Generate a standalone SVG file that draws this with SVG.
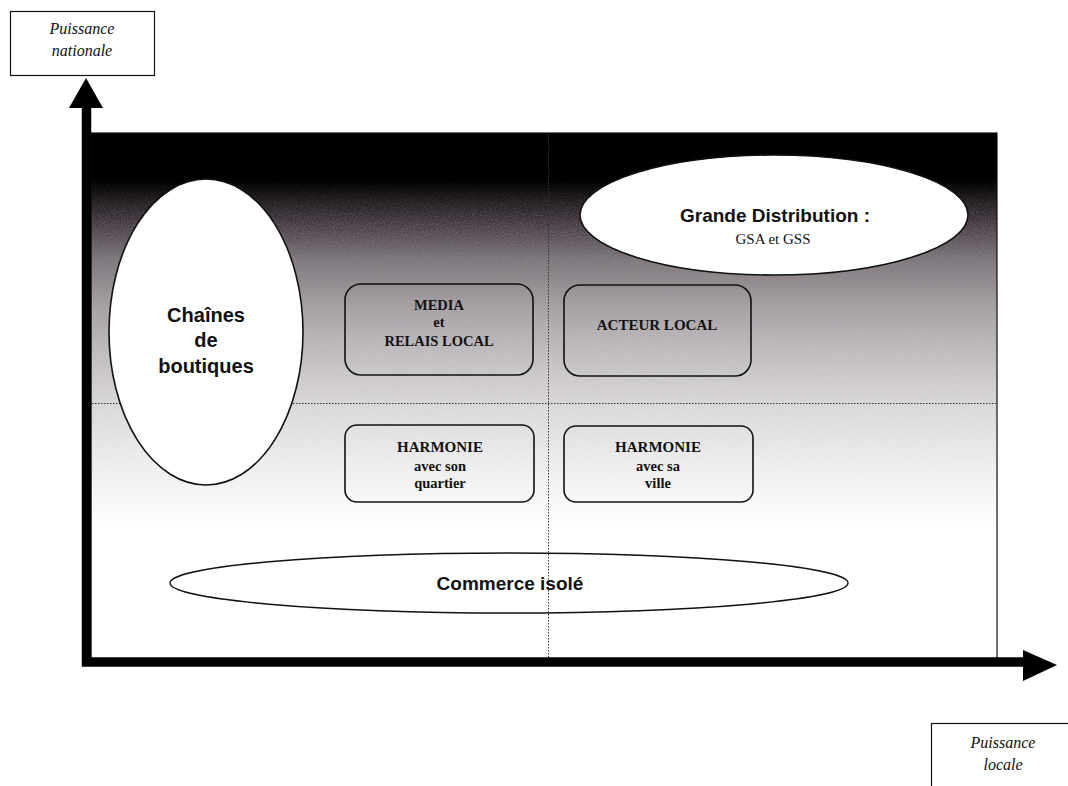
<svg xmlns="http://www.w3.org/2000/svg" width="1068" height="786" viewBox="0 0 1068 786">
<style>
.lbl{font-family:"Liberation Serif",serif;font-style:italic;font-size:16px;fill:#111;text-anchor:middle}
.sans{font-family:"Liberation Sans",Arial,sans-serif;font-weight:bold;fill:#111;text-anchor:middle}
.serif{font-family:"Liberation Serif",serif;font-weight:bold;fill:#111;text-anchor:middle}
.box{fill:none;stroke:#111;stroke-width:1.6}
.ell{fill:#fff;stroke:#111;stroke-width:1.6}
.dot{stroke:#333;stroke-width:1;stroke-dasharray:1.5 1.5;fill:none}
</style>
<defs>
<linearGradient id="bg" x1="0" y1="133" x2="0" y2="660" gradientUnits="userSpaceOnUse">
<stop offset="0" stop-color="#000"/>
<stop offset="0.09" stop-color="#000"/>
<stop offset="0.16" stop-color="#3a3238"/>
<stop offset="0.24" stop-color="#7d767b"/>
<stop offset="0.33" stop-color="#a8a3a7"/>
<stop offset="0.44" stop-color="#c9c6c9"/>
<stop offset="0.52" stop-color="#dddbdd"/>
<stop offset="0.62" stop-color="#eeedee"/>
<stop offset="0.75" stop-color="#fff"/>
<stop offset="1" stop-color="#fff"/>
</linearGradient>
<filter id="noise" x="0" y="0" width="100%" height="100%">
<feTurbulence type="fractalNoise" baseFrequency="0.9" numOctaves="2" seed="3" result="t"/>
<feColorMatrix in="t" type="matrix" values="0 0 0 0 0.35  0 0 0 0 0.3  0 0 0 0 0.34  0 0 0 -2.2 1.25" result="n"/>
<feComposite in="n" in2="SourceGraphic" operator="in"/>
</filter>
<linearGradient id="nmask" x1="0" y1="133" x2="0" y2="660" gradientUnits="userSpaceOnUse">
<stop offset="0.08" stop-color="#fff" stop-opacity="0"/>
<stop offset="0.18" stop-color="#fff" stop-opacity="0.9"/>
<stop offset="0.5" stop-color="#fff" stop-opacity="0.35"/>
<stop offset="0.7" stop-color="#fff" stop-opacity="0"/>
</linearGradient>
</defs>
<rect width="1068" height="786" fill="#fff"/>
<!-- plot area -->
<rect x="91" y="133" width="906" height="527" fill="url(#bg)"/>
<rect x="91" y="133" width="906" height="527" fill="url(#nmask)" filter="url(#noise)" opacity="0.55"/>
<rect x="91" y="133" width="906" height="527" fill="none" stroke="#111" stroke-width="1.2"/>
<g id="connectors">
<line class="dot" x1="92" y1="403.5" x2="996" y2="403.5"/>
<line class="dot" x1="548.5" y1="134" x2="548.5" y2="658"/>
<line x1="86.5" y1="106" x2="86.5" y2="666" stroke="#000" stroke-width="9.5"/>
<polygon points="86,78 69,108 103,108" fill="#000"/>
<line x1="82" y1="662" x2="1025" y2="662" stroke="#000" stroke-width="9.5"/>
<polygon points="1057,665 1023,650 1023,681" fill="#000"/>
</g>
<g id="axis-y-label">
<rect x="10.5" y="11.5" width="144" height="64" fill="#fff" stroke="#111" stroke-width="1.2"/>
<text class="lbl" x="82" y="34">Puissance</text>
<text class="lbl" x="82" y="56">nationale</text>
</g>
<g id="axis-x-label">
<rect x="931.5" y="723.5" width="145" height="70" fill="#fff" stroke="#111" stroke-width="1.2"/>
<text class="lbl" x="1003" y="748">Puissance</text>
<text class="lbl" x="1003" y="770">locale</text>
</g>
<g id="chaines">
<ellipse class="ell" cx="206" cy="332" rx="97" ry="153"/>
<text class="sans" font-size="20" x="206" y="322">Chaînes</text>
<text class="sans" font-size="20" x="206" y="347">de</text>
<text class="sans" font-size="20" x="206" y="373">boutiques</text>
</g>
<g id="grande-distribution">
<ellipse class="ell" cx="774" cy="215" rx="194" ry="60"/>
<text class="sans" font-size="19" x="775" y="222">Grande Distribution :</text>
<text font-family="Liberation Serif,serif" font-size="15" fill="#111" text-anchor="middle" x="773" y="244">GSA et GSS</text>
</g>
<g id="media">
<rect class="box" x="345" y="284" width="188" height="91" rx="16"/>
<text class="serif" font-size="14.5" x="439" y="310">MEDIA</text>
<text class="serif" font-size="14.5" x="439" y="327">et</text>
<text class="serif" font-size="14.5" x="439" y="346">RELAIS LOCAL</text>
</g>
<g id="acteur">
<rect class="box" x="564" y="285" width="187" height="91" rx="16"/>
<text class="serif" font-size="15" x="657" y="330">ACTEUR LOCAL</text>
</g>
<g id="harmonie-quartier">
<rect class="box" x="345" y="425" width="189" height="77" rx="12"/>
<text class="serif" font-size="15" x="440" y="452">HARMONIE</text>
<text class="serif" font-size="14.5" x="440" y="471">avec son</text>
<text class="serif" font-size="14.5" x="440" y="488">quartier</text>
</g>
<g id="harmonie-ville">
<rect class="box" x="564" y="426" width="189" height="76" rx="12"/>
<text class="serif" font-size="15" x="658" y="452">HARMONIE</text>
<text class="serif" font-size="14.5" x="658" y="471">avec sa</text>
<text class="serif" font-size="14.5" x="658" y="488">ville</text>
</g>
<g id="commerce-isole">
<ellipse cx="509" cy="583" rx="339" ry="30" fill="none" stroke="#111" stroke-width="1.4"/>
<text class="sans" font-size="19" x="510" y="590">Commerce isolé</text>
</g>
</svg>
